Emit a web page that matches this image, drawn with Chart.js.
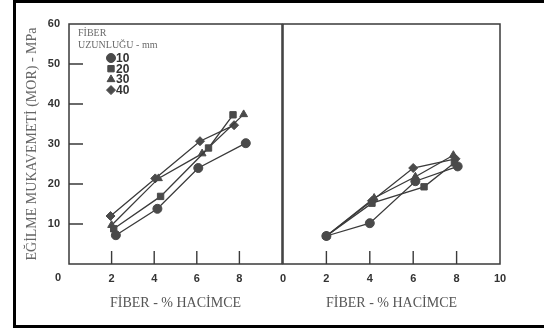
<!DOCTYPE html>
<html>
<head>
<meta charset="utf-8">
<script src="https://cdn.jsdelivr.net/npm/chart.js@4/dist/chart.umd.min.js"></script>
<style>
  html, body { margin: 0; padding: 0; background: #fff; overflow: hidden; width: 544px; height: 329px; }
  #frame { position: absolute; left: 13px; top: 0; width: 620px; height: 328px; box-sizing: border-box; border: 3px solid #000; }
  canvas { position: absolute; top: 0; }
  #left { left: 0; }
  #right { left: 270px; }
</style>
</head>
<body>
<div id="frame"></div>
<canvas id="left" width="290" height="329"></canvas>
<canvas id="right" width="274" height="329"></canvas>
<script>
// Fibre lengths (mm) and point styles used for each series
const fiberLengths = ['10', '20', '30', '40'];
const pointStyles = ['circle', 'rect', 'triangle', 'rectRot'];

// Left panel: fibre content (% by volume) and MOR (MPa)
const left10x = [2.2, 4.15, 6.07, 8.3];
const left10y = [7.2, 13.8, 24.0, 30.2];
const left20x = [2.1, 4.3, 6.55, 7.7];
const left20y = [8.8, 16.9, 29.0, 37.3];
const left30x = [2.0, 4.2, 6.25, 8.2];
const left30y = [9.7, 21.4, 27.6, 37.4];
const left40x = [1.95, 4.05, 6.15, 7.75];
const left40y = [12.0, 21.4, 30.7, 34.7];

// Right panel
const right10x = [2.0, 4.0, 6.1, 8.05];
const right10y = [7.0, 10.2, 20.7, 24.4];
const right20x = [2.0, 4.1, 6.5, 7.9];
const right20y = [7.0, 15.2, 19.3, 25.3];
const right30x = [2.0, 4.2, 6.1, 7.85];
const right30y = [7.0, 16.5, 21.8, 27.2];
const right40x = [2.0, 4.1, 6.0, 7.95];
const right40y = [7.0, 15.8, 24.0, 26.3];

// Axis tick values
const xTicks = [0, 2, 4, 6, 8, 10];
const xInnerTicks = [2, 4, 6, 8];
const yInnerTicks = [10, 20, 30, 40, 50];

const xTitle = 'FİBER - % HACİMCE';
const yTitle = 'EĞİLME MUKAVEMETİ (MOR) - MPa';
const legendTitle = ['FİBER', 'UZUNLUĞU - mm'];

const LINE = '#3a3a3a';
const MARK = '#4a4a4a';
const TICKFONT = { family: '"Liberation Sans", Arial, sans-serif', size: 11, weight: 'bold' };
const SERIF = '"Liberation Serif", "Times New Roman", serif';

function zip(xs, ys) { return xs.map((x, i) => ({ x: x, y: ys[i] })); }

function makeDatasets(xsList, ysList) {
  return xsList.map((xs, i) => ({
    label: fiberLengths[i],
    data: zip(xs, ysList[i]),
    showLine: true,
    borderColor: LINE,
    borderWidth: 1.3,
    backgroundColor: MARK,
    pointBackgroundColor: MARK,
    pointBorderColor: MARK,
    pointStyle: pointStyles[i],
    pointRadius: 4.5,
    pointBorderWidth: 1,
    tension: 0
  }));
}

// Panel frame and inward tick marks
const panelFrame = {
  id: 'panelFrame',
  beforeDatasetsDraw(chart, args, opts) {
    const { ctx, chartArea: a, scales } = chart;
    ctx.save();
    ctx.strokeStyle = LINE;
    ctx.lineWidth = 1.5;
    ctx.strokeRect(a.left, a.top, a.right - a.left, a.bottom - a.top);
    ctx.lineWidth = 1.4;
    ctx.beginPath();
    xInnerTicks.forEach(v => {
      const px = scales.x.getPixelForValue(v);
      ctx.moveTo(px, a.bottom);
      ctx.lineTo(px, a.bottom - 13);
    });
    if (opts.yTicks) {
      yInnerTicks.forEach(v => {
        const py = scales.y.getPixelForValue(v);
        ctx.moveTo(a.left, py);
        ctx.lineTo(a.left + 14, py);
      });
    }
    ctx.stroke();
    if (opts.originLabel) {
      ctx.fillStyle = '#333';
      ctx.font = 'bold 11px "Liberation Sans", Arial, sans-serif';
      ctx.textAlign = 'center';
      ctx.textBaseline = 'middle';
      ctx.fillText('0', scales.x.getPixelForValue(0) - 11, a.bottom + 14);
    }
    ctx.restore();
  }
};

// Legend block inside the left panel
const fiberLegend = {
  id: 'fiberLegend',
  afterDraw(chart, args, opts) {
    if (!opts.show) return;
    const { ctx, chartArea: a } = chart;
    ctx.save();
    ctx.fillStyle = '#6a6a6a';
    ctx.font = '10px ' + SERIF;
    ctx.textAlign = 'left';
    ctx.textBaseline = 'middle';
    ctx.fillText(legendTitle[0], a.left + 9, a.top + 9);
    ctx.fillText(legendTitle[1], a.left + 9, a.top + 21);
    ctx.font = 'bold 12px "Liberation Sans", Arial, sans-serif';
    chart.data.datasets.forEach((ds, i) => {
      const y = a.top + 34 + i * 10.7;
      ctx.fillStyle = MARK;
      ctx.strokeStyle = MARK;
      Chart.helpers.drawPoint(ctx, { pointStyle: ds.pointStyle, radius: 4.5, rotation: 0, borderWidth: 1 }, a.left + 42, y);
      ctx.fillStyle = '#333';
      ctx.fillText(ds.label, a.left + 47, y + 0.5);
    });
    ctx.restore();
  }
};

function xScale(hideEnds) {
  return {
    type: 'linear',
    min: 0, max: 10,
    afterFit(s) { s.height = 65; },
    afterBuildTicks(s) { s.ticks = xTicks.map(v => ({ value: v })); },
    grid: { display: false, drawTicks: false },
    border: { display: false },
    ticks: {
      color: '#333',
      font: TICKFONT,
      padding: 8,
      maxRotation: 0,
      autoSkip: false,
      callback: v => (hideEnds && (v === 0 || v === 10)) ? '' : String(v)
    },
    title: {
      display: true,
      text: xTitle,
      color: '#555',
      font: { family: SERIF, size: 14 },
      padding: { top: 0, bottom: 17 }
    }
  };
}

const common = {
  responsive: false,
  animation: false,
  events: [],
  plugins: { legend: { display: false }, tooltip: { enabled: false } }
};

new Chart(document.getElementById('left'), {
  type: 'scatter',
  data: { datasets: makeDatasets([left10x, left20x, left30x, left40x], [left10y, left20y, left30y, left40y]) },
  options: Object.assign({}, common, {
    layout: { padding: { left: 0, top: 24, right: 7, bottom: 0 } },
    plugins: Object.assign({}, common.plugins, {
      panelFrame: { yTicks: true, originLabel: true },
      fiberLegend: { show: true }
    }),
    scales: {
      x: xScale(true),
      y: {
        type: 'linear',
        min: 0, max: 60,
        afterFit(s) { s.width = 69; },
        grid: { display: false, drawTicks: false },
        border: { display: false },
        ticks: {
          stepSize: 10,
          color: '#333',
          font: TICKFONT,
          padding: 9,
          callback: v => v === 0 ? '' : String(v)
        },
        title: {
          display: true,
          text: yTitle,
          color: '#666',
          font: { family: SERIF, size: 14 },
          padding: { top: 24, bottom: 0 }
        }
      }
    }
  }),
  plugins: [panelFrame, fiberLegend]
});

new Chart(document.getElementById('right'), {
  type: 'scatter',
  data: { datasets: makeDatasets([right10x, right20x, right30x, right40x], [right10y, right20y, right30y, right40y]) },
  options: Object.assign({}, common, {
    layout: { padding: { left: 13, top: 24, right: 44, bottom: 0 } },
    plugins: Object.assign({}, common.plugins, {
      panelFrame: { yTicks: false, originLabel: false },
      fiberLegend: { show: false }
    }),
    scales: {
      x: xScale(false),
      y: { type: 'linear', min: 0, max: 60, display: false }
    }
  }),
  plugins: [panelFrame, fiberLegend]
});
</script>
</body>
</html>
